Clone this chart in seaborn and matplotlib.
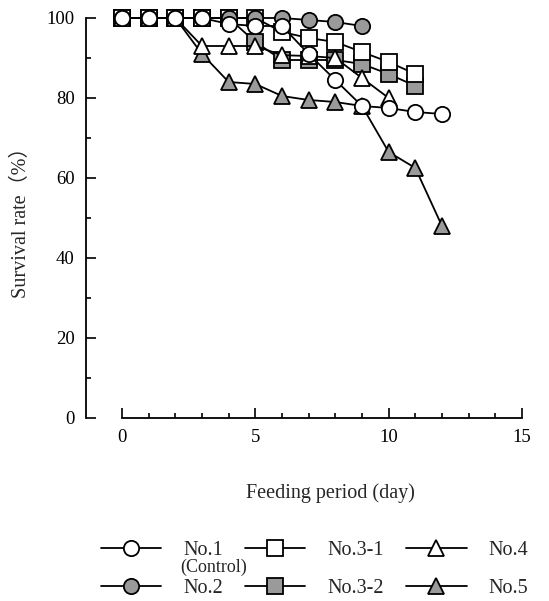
import numpy as np
import pandas as pd
import seaborn as sns
import matplotlib
matplotlib.use("Agg")
import matplotlib.pyplot as plt
from matplotlib.ticker import MultipleLocator

# survival rate (%) per feeding day
no1 = [100, 100, 100, 100, 98.5, 98, 98, 91, 84.5, 78, 77.5, 76.5, 76]
no2 = [100, 100, 100, 100, 100, 100, 100, 99.5, 99, 98]
no3_1 = [100, 100, 100, 100, 100, 100, 96.5, 95, 94, 91.5, 89, 86]
no3_2 = [100, 100, 100, 100, 100, 94, 89.5, 89.5, 89.5, 88.5, 86, 83]
no4 = [100, 100, 100, 93, 93, 93, 90.7, 90.5, 90, 85, 80]
no5 = [100, 100, 100, 91, 84, 83.5, 80.5, 79.5, 79, 78, 66.5, 62.5, 48]

labels = ["No.1", "No.2", "No.3-1", "No.3-2", "No.4", "No.5"]
series = [no1, no2, no3_1, no3_2, no4, no5]
markers = ["o", "o", "s", "s", "^", "^"]
fills = ["white", "#9a9a9a", "white", "#9a9a9a", "white", "#9a9a9a"]
sizes = [11, 11, 11, 11, 12, 12]
# drawing order, last one on top
draw_order = [3, 2, 1, 5, 4, 0]

sns.set_style("ticks")
plt.rcParams["font.family"] = ["Liberation Serif", "Noto Sans CJK JP", "DejaVu Sans"]

fig = plt.figure(figsize=(5.49, 6.01), dpi=100)
ax = fig.add_axes([122 / 549, 1 - 418 / 601, 400 / 549, 400 / 601])

lines = {}
for i in draw_order:
    df = pd.DataFrame({"day": np.arange(len(series[i])), "rate": series[i]})
    sns.lineplot(data=df, x="day", y="rate", ax=ax, color="black", lw=1.3,
                 marker=markers[i], markersize=sizes[i], markerfacecolor=fills[i],
                 markeredgecolor="black", markeredgewidth=1.3, clip_on=False,
                 zorder=3 + draw_order.index(i))
    lines[i] = ax.get_lines()[-1]

ax.set_xlim(0, 15)
ax.set_ylim(0, 100)
ax.xaxis.set_major_locator(MultipleLocator(5))
ax.xaxis.set_minor_locator(MultipleLocator(1))
ax.yaxis.set_major_locator(MultipleLocator(20))
ax.yaxis.set_minor_locator(MultipleLocator(10))
ax.tick_params(which="both", direction="in", width=1.2, labelsize=13.5, colors="black")
ax.tick_params(which="major", length=7)
ax.tick_params(which="minor", length=3.5)
ax.tick_params(axis="x", pad=8)
ax.tick_params(axis="y", pad=8)

sns.despine(ax=ax)
ax.spines["left"].set_position(("outward", 26))
for s in ["left", "bottom"]:
    ax.spines[s].set_linewidth(1.3)
    ax.spines[s].set_color("black")

ax.set_xlabel("Feeding period (day)", fontsize=14.5)
ax.set_ylabel("Survival rate（%）", fontsize=14.5)
ax.xaxis.set_label_coords(0.52, -0.163)
ax.yaxis.set_label_coords(-0.228, 0.5)

handles = [lines[i] for i in range(6)]
fig.legend(handles, labels, ncol=3, loc="center", bbox_to_anchor=(0.573, 0.052),
           frameon=False, fontsize=14.5, handlelength=3.0, handletextpad=1.1,
           columnspacing=1.1, labelspacing=0.95)
fig.text(0.39, 0.0555, "(Control)", fontsize=13, ha="center", va="center")

fig.savefig("out.png", dpi=100)
